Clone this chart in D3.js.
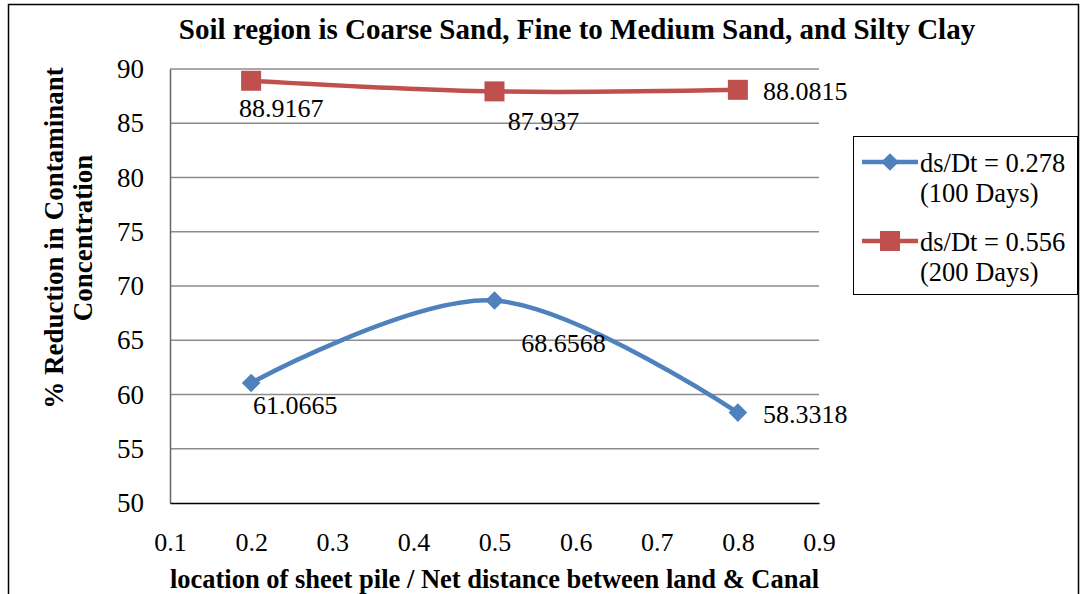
<!DOCTYPE html>
<html>
<head>
<meta charset="UTF-8">
<script src="https://d3js.org/d3.v7.min.js"></script>
<style>
  body { margin: 0; background: #fff; }
  svg { font-family: "Liberation Serif", "Times New Roman", serif; }
</style>
</head>
<body>
<svg width="1081" height="594"></svg>
<script>

// data
var xValues = [0.2, 0.5, 0.8];
var series100 = [61.0665, 68.6568, 58.3318];
var series200 = [88.9167, 87.937, 88.0815];
var seriesNames = [["ds/Dt = 0.278", "(100 Days)"], ["ds/Dt = 0.556", "(200 Days)"]];
var xTicks = [0.1, 0.2, 0.3, 0.4, 0.5, 0.6, 0.7, 0.8, 0.9];
var yTicks = [50, 55, 60, 65, 70, 75, 80, 85, 90];

var svg = d3.select("svg"),
    margin = {top: 69, right: 262, bottom: 91, left: 170},
    width = 1081,
    height = 594,
    chartWidth = width - margin.left - margin.right,
    chartHeight = height - margin.top - margin.bottom;

// outer frame
svg.append("rect")
    .attr("x", 8.5).attr("y", 4.5)
    .attr("width", 1070).attr("height", 600)
    .attr("fill", "none").attr("stroke", "#000").attr("stroke-width", 1.5);

var g = svg.append("g").attr("transform", "translate(" + margin.left + "," + margin.top + ")");

var x = d3.scaleLinear().domain([0.1, 0.9]).range([0, chartWidth]);
var y = d3.scaleLinear().domain([50, 90]).range([chartHeight, 0]);

// gridlines
g.append("g")
  .selectAll("line")
  .data(yTicks.slice(1))
  .enter().append("line")
    .attr("x1", 0).attr("x2", chartWidth)
    .attr("y1", function(d) { return y(d); })
    .attr("y2", function(d) { return y(d); })
    .attr("stroke", "#8c8c8c").attr("stroke-width", 1.5);

// axes
var yAxis = g.append("g")
    .call(d3.axisLeft(y).tickValues(yTicks).tickSize(0).tickPadding(26));
yAxis.select(".domain").attr("stroke", "#666").attr("stroke-width", 1.5);
yAxis.selectAll("text").attr("font-size", 27).attr("fill", "#000")
    .attr("font-family", "Liberation Serif, Times New Roman, serif");

var xAxis = g.append("g")
    .attr("transform", "translate(0," + chartHeight + ")")
    .call(d3.axisBottom(x).tickValues(xTicks).tickSize(0).tickPadding(30).tickFormat(d3.format(".1f")));
xAxis.select(".domain").attr("stroke", "#000").attr("stroke-width", 1.5);
xAxis.selectAll("text").attr("font-size", 26).attr("fill", "#000")
    .attr("font-family", "Liberation Serif, Times New Roman, serif");

// lines
var line = d3.line()
    .x(function(d, i) { return x(xValues[i]); })
    .y(function(d) { return y(d); })
    .curve(d3.curveCardinal.tension(0));

var colors = ["#4f81bd", "#c0504d"];
var allSeries = [series100, series200];

allSeries.forEach(function(s, k) {
  g.append("path")
      .datum(s)
      .attr("fill", "none")
      .attr("stroke", colors[k])
      .attr("stroke-width", 4.5)
      .attr("d", line);
});

// markers
var diamond = d3.symbol().type(d3.symbolDiamond2).size(220);
g.selectAll(".m100")
  .data(series100)
  .enter().append("path")
    .attr("transform", function(d, i) { return "translate(" + x(xValues[i]) + "," + y(d) + ")"; })
    .attr("d", diamond)
    .attr("fill", colors[0]);

g.selectAll(".m200")
  .data(series200)
  .enter().append("rect")
    .attr("x", function(d, i) { return x(xValues[i]) - 10; })
    .attr("y", function(d) { return y(d) - 10; })
    .attr("width", 20).attr("height", 20)
    .attr("fill", colors[1]);

// data labels (offsets from the point)
var labelOffsets100 = [[44, 31], [69, 51], [25, 10]];
var labelOffsets200 = [[30, 36], [49, 39], [25, 10]];
var labelAnchor = ["middle", "middle", "start"];

function addLabels(s, offs) {
  g.append("g")
    .selectAll("text")
    .data(s)
    .enter().append("text")
      .attr("x", function(d, i) { return x(xValues[i]) + offs[i][0]; })
      .attr("y", function(d, i) { return y(d) + offs[i][1]; })
      .attr("text-anchor", function(d, i) { return labelAnchor[i]; })
      .attr("font-size", 26)
      .text(function(d) { return d; });
}
addLabels(series100, labelOffsets100);
addLabels(series200, labelOffsets200);

// title
svg.append("text")
    .attr("x", 577).attr("y", 39)
    .attr("text-anchor", "middle")
    .attr("font-weight", "bold")
    .attr("font-size", 29)
    .text("Soil region is Coarse Sand, Fine to Medium Sand, and Silty Clay");

// axis titles
svg.append("text")
    .attr("x", margin.left + chartWidth / 2).attr("y", 588)
    .attr("text-anchor", "middle")
    .attr("font-weight", "bold")
    .attr("font-size", 26.5)
    .text("location of sheet pile / Net distance between land & Canal");

var yTitle = svg.append("text")
    .attr("transform", "translate(0,238) rotate(-90)")
    .attr("text-anchor", "middle")
    .attr("font-weight", "bold")
    .attr("font-size", 27);
yTitle.append("tspan").attr("x", 0).attr("y", 63).text("% Reduction in Contaminant");
yTitle.append("tspan").attr("x", 0).attr("y", 92).text("Concentration");

// legend
var legend = svg.append("g").attr("transform", "translate(853,136)");
legend.append("rect")
    .attr("x", 0.5).attr("y", 0.5)
    .attr("width", 224).attr("height", 158)
    .attr("fill", "#fff").attr("stroke", "#000").attr("stroke-width", 1);

var item = legend.selectAll(".item")
  .data(seriesNames)
  .enter().append("g")
    .attr("transform", function(d, i) { return "translate(0," + (26 + i * 79) + ")"; });

item.append("line")
    .attr("x1", 9).attr("x2", 65)
    .attr("stroke", function(d, i) { return colors[i]; })
    .attr("stroke-width", 4.5);

item.each(function(d, i) {
  var it = d3.select(this);
  if (i === 0) {
    it.append("path").attr("transform", "translate(37,0)")
      .attr("d", d3.symbol().type(d3.symbolDiamond2).size(200)).attr("fill", colors[0]);
  } else {
    it.append("rect").attr("x", 27).attr("y", -10).attr("width", 20).attr("height", 20)
      .attr("fill", colors[1]);
  }
});

item.append("text")
    .attr("x", 67).attr("y", 10)
    .attr("font-size", 26.5)
    .text(function(d) { return d[0]; });
item.append("text")
    .attr("x", 67).attr("y", 40)
    .attr("font-size", 26.5)
    .text(function(d) { return d[1]; });

</script>
</body>
</html>
